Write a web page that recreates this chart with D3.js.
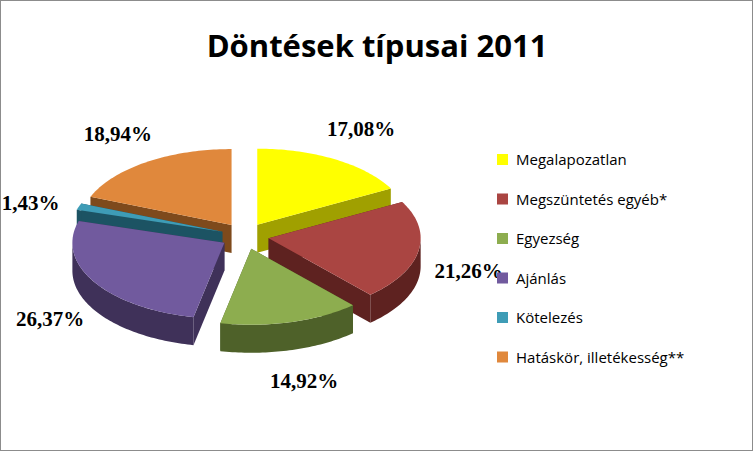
<!DOCTYPE html>
<html><head><meta charset="utf-8">
<script src="https://cdn.jsdelivr.net/npm/d3@7"></script>
<style>body{margin:0;background:#fff}</style>
</head><body>
<svg id="chart" width="753" height="451"></svg>
<script>
const categories = ["Megalapozatlan","Megszüntetés egyéb*","Egyezség","Ajánlás","Kötelezés","Hatáskör, illetékesség**"];
const values = [17.08,21.26,14.92,26.37,1.43,18.94];
const labels = ["17,08%","21,26%","14,92%","26,37%","1,43%","18,94%"];
const topColors = ["#FFFF00","#AA4542","#8DAD4F","#715A9E","#3E9CB6","#E0883C"];
const sideColors = ["#A0A000","#5E2220","#4E6129","#3F3159","#1C5363","#7E4A1C"];

const svg = d3.select("#chart");
svg.append("rect").attr("x",0.5).attr("y",0.5).attr("width",752).attr("height",450)
  .attr("fill","#fff").attr("stroke","#8c8c8c");
svg.append("text").attr("x",377).attr("y",57).attr("text-anchor","middle")
  .attr("font-family","Open Sans, sans-serif").attr("font-weight","bold").attr("font-size",31)
  .text("Döntések típusai 2011");

const cx=245, cy=236, rx=152, ry=76, depth=28, explode=24;
const pie = d3.pie().sort(null).value(d=>d)(values);
const pt = (a,r1,r2,ox,oy,dy=0)=>[ox+r1*Math.sin(a), oy-r2*Math.cos(a)+dy];

const slices = pie.map((p,i)=>{
  const mid=(p.startAngle+p.endAngle)/2;
  return {i,p,mid,ox:cx+explode*Math.sin(mid),oy:cy-explode*0.55*Math.cos(mid)};
});

function arcPts(s,a0,a1,dy){
  const n=Math.max(2,Math.ceil((a1-a0)/0.02)),out=[];
  for(let k=0;k<=n;k++){out.push(pt(a0+(a1-a0)*k/n,rx,ry,s.ox,s.oy,dy));}
  return out;
}
const line=d3.line();
const g=svg.append("g");
const order=slices.slice().sort((a,b)=>(-Math.cos(a.mid))-(-Math.cos(b.mid)));
order.forEach(s=>{
  const {p}=s, c=sideColors[s.i];
  [p.startAngle,p.endAngle].forEach(a=>{
    const e=pt(a,rx,ry,s.ox,s.oy);
    g.append("path").attr("fill",c).attr("d",line([[s.ox,s.oy],e,[e[0],e[1]+depth],[s.ox,s.oy+depth]])+"Z");
  });
  const a0=Math.max(p.startAngle,Math.PI/2), a1=Math.min(p.endAngle,3*Math.PI/2);
  if(a1>a0){
    const top=arcPts(s,a0,a1,0), bot=arcPts(s,a0,a1,depth).reverse();
    g.append("path").attr("fill",c).attr("d",line(top.concat(bot))+"Z");
  }
});
slices.forEach(s=>{
  const pts=[[s.ox,s.oy]].concat(arcPts(s,s.p.startAngle,s.p.endAngle,0));
  g.append("path").attr("fill",topColors[s.i]).attr("d",line(pts)+"Z");
});
slices.forEach(s=>{
  const [x,y]=pt(s.mid,rx+75,ry+62,cx,cy+12);
  svg.append("text").attr("x",x).attr("y",y+7).attr("text-anchor","middle")
    .attr("font-family","Liberation Serif, serif").attr("font-weight","bold").attr("font-size",21)
    .text(labels[s.i]);
});
const lg=svg.append("g").attr("transform","translate(497,160)");
categories.forEach((c,i)=>{
  lg.append("rect").attr("x",0).attr("y",i*39.5-6).attr("width",11).attr("height",11).attr("fill",topColors[i]);
  lg.append("text").attr("x",19).attr("y",i*39.5+5).attr("font-family","Open Sans, sans-serif")
    .attr("font-size",15).text(c);
});
</script>
</body></html>
